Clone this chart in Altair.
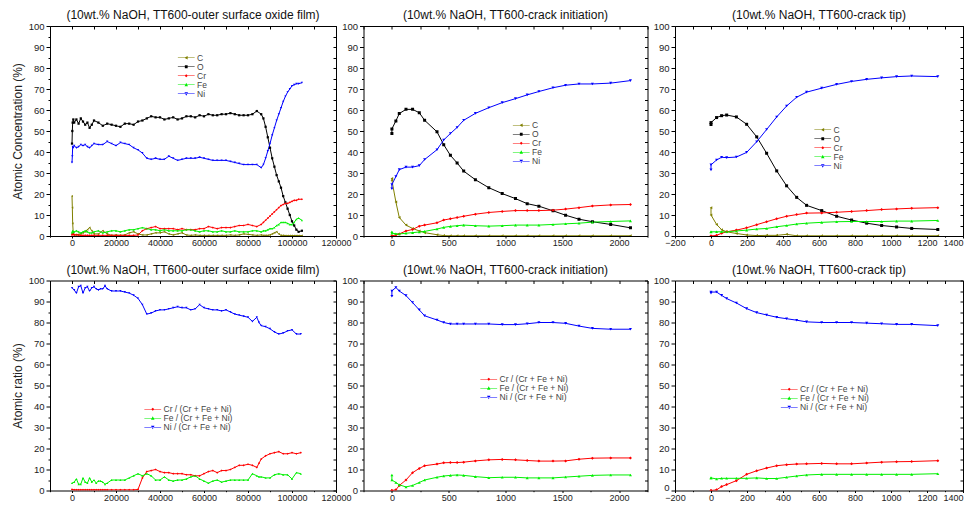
import altair as alt
import pandas as pd

FONT = "Liberation Sans"

# ---------------- top-left: outer surface oxide film (atomic concentration, %) ----------------
film_x = [0, 150, 300, 600, 1000, 2000, 3000, 4000, 5000, 6000, 7000, 8000, 9000, 10000,
          12000, 14000, 16000, 18000, 20000, 22000, 24000, 26000, 28000, 30000, 32000, 34000,
          36000, 38000, 40000, 42000, 44000, 46000, 48000, 50000, 52000, 54000, 56000, 58000,
          60000, 62000, 64000, 66000, 68000, 70000, 72000, 74000, 76000, 78000, 80000, 82000,
          84000, 86000,
          87000, 88000, 89000, 90000, 91000, 92000, 93000, 94000, 95000, 96000, 97000, 98000,
          99000, 100000, 101000, 102000, 103000, 104500]
film_C = [19, 13.5, 6, 1, 0.5, 0.5, 0.8, 1, 1.5, 2, 3, 4, 2.5, 1,
          1, 2.5, 1, 0.3, 0.5, 0.3, 0.5, 1.5, 2, 1, 0.5, 0.5, 1, 1.5, 1.5, 2, 1, 0.5, 1, 1.5,
          0.5, 0.3, 0.5, 0.3, 0.3, 0.3, 0.3, 0.3, 0.3, 0.3, 0.5, 0.3, 0.5, 1, 0.8, 0.5, 0.3, 0.5,
          0.3, 0.3, 0.3, 0.5, 1, 1.5, 2, 1, 0.3, 0.3, 0.2, 0.2, 0.2, 0.2, 0.2, 0.2, 0.2, 0.2]
film_O = [44, 50, 54, 55.5, 54, 55.5, 53.5, 56, 54.5, 53, 54, 51.5, 53, 55,
          54, 52.5, 53.5, 53, 52.5, 52, 53.5, 53.5, 53, 54.5, 55, 56, 57, 56.5, 56.5, 55.5, 56,
          56.5, 55.5, 56, 57, 57, 56.5, 57.5, 57, 58, 57.5, 57.5, 58, 58, 58.5, 58, 57.5, 57.5,
          57.5, 58, 59.5, 58,
          56, 52, 47, 42, 37, 33, 29, 26, 23, 19, 16, 13, 10, 7, 5, 3, 2, 2.5]
film_Cr = [0.5, 1, 1, 0.8, 0.5, 0.6, 0.4, 0.3, 0.3, 0.3, 0.3, 0.3, 0.3, 0.3,
           0.3, 0.3, 0.3, 0.3, 0.3, 0.3, 0.3, 0.3, 0.3, 0.5, 2.5, 3.5, 4, 4.5, 3.5, 3.5, 3.5,
           3.5, 3, 3.5, 3, 3, 3, 3.5, 3.5, 4.5, 4, 3.5, 4, 4, 4, 4.5, 5, 5, 5.5, 5, 4.5, 5.5,
           6.5, 7.5, 8.5, 9.5, 10.5, 11.5, 12.5, 13.5, 14.5, 15, 15.5, 15.5, 16, 16.5, 17, 17,
           17.5, 17.5]
film_Fe = [1.5, 2, 2.5, 2, 2, 2.5, 2, 1.5, 2, 2.5, 2, 1.5, 1.5, 2,
           2.5, 1.5, 2, 2.5, 2.5, 2, 2.5, 3, 3, 3.5, 4, 3.5, 3, 3, 2.5, 3, 2.5, 2.5, 2.5, 2.5,
           3, 3, 2.5, 2, 2.5, 2.5, 2, 2, 2.5, 2, 2, 2.5, 2, 2, 2, 2.5, 2.5, 2,
           2.5, 2.5, 3, 3.5, 3.5, 4, 5, 5.5, 6.5, 6.5, 6.5, 6, 5.5, 5.5, 6.5, 8, 8.5, 7.5]
film_Ni = [35, 38, 42.5, 42, 43, 42, 42.5, 43.5, 43, 43.5, 42.5, 42, 43, 44,
           43.5, 43.5, 45, 44, 43, 44.5, 44, 43.5, 42, 41, 39.5, 37, 36.5, 37, 36.5, 36.5, 38,
           37, 36, 36.5, 37, 37, 37, 37.5, 37, 36.5, 36, 36, 36, 36, 35.5, 35, 34.5, 34, 34,
           34, 34, 32.5,
           34, 37, 40.5, 44, 48, 51.5, 55, 58, 61, 64, 66.5, 68.5, 70, 71.5, 72, 72.5, 72.5, 73]

# ---------------- top-middle: crack initiation ----------------
init_x = [0, 0, 35, 65, 124, 182, 241, 288, 397, 456, 515, 574, 632, 735, 853, 971, 1088,
          1191, 1294, 1418, 1529, 1647, 1765, 1926, 2100]
init_C = [27.4, 26.5, 16.2, 8.8, 5.2, 3.6, 2.4, 1.6, 0.6, 0.2, 0.1, 0.1, 0.1, 0.1, 0.1, 0.1,
          0.1, 0.1, 0.1, 0.1, 0.1, 0.1, 0.1, 0.1, 0.1]
init_O = [48.8, 51.0, 54.8, 58.3, 60.3, 60.3, 58.7, 55.1, 49.6, 43.5, 38.4, 34.8, 30.9, 26.8,
          23.0, 20.2, 17.8, 15.4, 14.2, 12.0, 9.9, 8.0, 6.8, 5.5, 3.9]
init_Cr = [0, 0, 0.5, 1.0, 2.4, 3.1, 4.7, 5.2, 6.3, 7.6, 8.2, 8.8, 9.4, 10.4, 11.2, 11.7, 12.1,
           12.1, 12.1, 12.3, 12.8, 13.5, 14.3, 14.8, 15.0]
init_Fe = [2.0, 1.3, 1.1, 1.0, 1.3, 1.6, 1.9, 2.2, 3.3, 4.1, 4.6, 4.9, 5.2, 4.9, 4.7, 4.9, 5.2,
           5.2, 5.2, 5.5, 5.8, 6.1, 6.6, 6.9, 7.2]
init_Ni = [22.5, 24.5, 28.3, 31.6, 32.8, 32.8, 33.5, 36.4, 41.1, 45.7, 48.8, 51.7, 55.1, 58.4,
           61.1, 63.5, 65.4, 67.2, 68.8, 70.6, 71.8, 72.4, 72.4, 72.8, 74.0]

# ---------------- top-right: crack tip ----------------
tip_x = [0, 0, 31, 59, 87, 141, 198, 254, 309, 365, 420, 476, 531, 615, 698, 781, 865, 948,
         1031, 1115, 1260]
tip_C = [13.4, 10.0, 5.5, 3.0, 2.0, 1.2, 0.5, 0.2, 0.3, 0.3, 0.8, 0.1, 0.1, 0.1, 0.1, 0.1, 0.1,
         0.1, 0.1, 0.1, 0.1]
tip_O = [53.1, 54.0, 56.4, 57.3, 57.6, 56.7, 53.2, 47.2, 39.4, 31.0, 23.9, 18.4, 14.6, 12.1,
         9.4, 7.6, 6.1, 5.0, 4.3, 3.6, 3.1]
tip_Cr = [0, 0, 0.3, 1.3, 2.0, 2.8, 3.9, 5.4, 6.8, 8.2, 9.4, 10.2, 10.9, 11.0, 11.3, 11.7, 12.1,
          12.6, 12.9, 13.2, 13.5]
tip_Fe = [1.9, 2.0, 2.0, 2.0, 2.0, 2.4, 2.8, 3.3, 3.6, 4.4, 5.0, 5.7, 6.1, 6.5, 6.8, 6.9, 6.9,
          6.9, 7.1, 7.1, 7.4]
tip_Ni = [31.5, 33.9, 36.2, 37.5, 37.3, 37.6, 39.8, 44.9, 50.7, 56.7, 61.9, 66.1, 68.5, 70.4,
          72.2, 73.6, 74.6, 75.3, 75.9, 76.2, 75.9]

# ---------------- bottom-left: outer surface oxide film (atomic ratio, %) ----------------
rfilm_x = [0, 1000, 2000, 3000, 4000, 5000, 6000, 7000, 8000, 9000, 10000, 11000, 12000, 13000,
           14000, 15000, 16000,
           18000, 20000, 22000, 24000, 26000, 28000, 30000, 32000, 34000, 36000, 38000, 40000,
           42000, 44000, 46000, 48000, 50000, 52000, 54000, 56000, 58000, 60000, 62000, 64000,
           66000, 68000, 70000, 72000, 74000, 76000, 78000, 80000, 82000, 84000,
           85000,
           86000, 88000, 90000, 92000, 94000, 96000, 98000, 100000, 102000, 104000]
rfilm_Cr = [0.5, 0.3, 0.3, 0.3, 0.3, 0.3, 0.3, 0.3, 0.3, 0.3, 0.3, 0.3, 0.3, 0.3, 0.3, 0.3, 0.3,
            0.3, 0.3, 0.3, 0.3, 0.3, 0.3, 0.5, 6, 9, 9.5, 10, 9, 8.5, 8.5, 8, 8, 8, 7.5, 7.5, 7,
            7, 8, 9, 9.5, 8.5, 9.5, 9.5, 10, 11, 12, 12, 12.5, 12, 11,
            13,
            15, 16.5, 17.5, 18, 18.5, 17.5, 17.5, 18, 17.5, 18]
rfilm_Fe = [3.5, 4, 5.5, 3, 3, 6, 4, 3.5, 6, 4, 5, 3.5, 4.5, 4.5, 4, 3, 3.5,
            5, 5, 5, 5, 6, 7, 8, 7, 8, 7, 5, 5, 6.5, 5, 4.5, 5, 5, 5.5, 6.5, 7, 5.5, 4.5, 3.5,
            4.5, 5, 4, 4.5, 5, 5, 5, 5, 5, 8, 7,
            6.5,
            6.5, 6, 6, 7.5, 8, 7.5, 7.5, 5.5, 8.5, 8]
rfilm_Ni = [96.5, 95.5, 94, 97, 97.5, 94, 96.5, 97, 95, 96.5, 97, 96, 95.5, 96, 96, 97.5, 96,
            95, 95, 95, 94.5, 94, 93, 91.5, 88.5, 84, 84.5, 85.5, 86, 86, 86.5, 87, 87.5, 87,
            87, 86, 86.5, 88.5, 87, 86.5, 86, 86, 85.5, 86, 85, 84, 83.5, 83, 82.5, 80.5, 82.5,
            80,
            78.5, 78, 77, 75.5, 74.5, 75, 76, 76.5, 74.5, 74.5]

# ---------------- bottom-middle: crack initiation (atomic ratio, %) ----------------
rinit_Cr = [0, 0, 0.3, 2.4, 5.0, 8.5, 10.5, 11.8, 12.6, 13.2, 13.3, 13.3, 13.5, 14.1, 14.6,
            14.8, 14.6, 14.3, 14.0, 14.0, 14.1, 14.9, 15.4, 15.5, 15.5]
rinit_Fe = [7.4, 5.0, 3.8, 2.7, 1.7, 2.4, 3.8, 5.0, 6.3, 6.9, 7.2, 7.4, 7.2, 6.6, 6.1, 6.3, 6.3,
            6.0, 6.0, 6.0, 6.4, 6.8, 7.2, 7.4, 7.4]
rinit_Ni = [92.5, 95.0, 96.7, 95.0, 92.8, 89.5, 86.0, 83.2, 81.2, 80.0, 79.3, 79.3, 79.3, 79.3,
            79.3, 79.0, 79.0, 79.4, 80.0, 80.0, 79.6, 78.3, 77.2, 76.8, 76.8]

# ---------------- bottom-right: crack tip (atomic ratio, %) ----------------
rtip_Cr = [0, 0, 0.3, 1.9, 2.8, 4.7, 7.7, 9.4, 10.7, 11.8, 12.3, 12.6, 12.7, 12.9, 12.7, 12.7,
           13.1, 13.5, 13.7, 13.8, 14.2]
rtip_Fe = [6.0, 6.0, 5.5, 5.8, 5.8, 5.8, 5.8, 6.0, 5.7, 5.7, 6.3, 6.9, 7.4, 7.7, 7.7, 7.7, 7.7,
           7.7, 7.7, 7.7, 8.0]
rtip_Ni = [94.0, 94.5, 94.5, 92.9, 91.4, 89.3, 86.6, 84.7, 83.6, 82.5, 81.8, 81.1, 80.3, 80.0,
           80.0, 80.0, 79.7, 79.4, 79.1, 79.1, 78.5]

conc_names = ["C", "O", "Cr", "Fe", "Ni"]
ratio_names = ["Cr / (Cr + Fe + Ni)", "Fe / (Cr + Fe + Ni)", "Ni / (Cr + Fe + Ni)"]
ratio_elems = ["Cr", "Fe", "Ni"]
title_film = "(10wt.% NaOH, TT600-outer surface oxide film)"
title_init = "(10wt.% NaOH, TT600-crack initiation)"
title_tip = "(10wt.% NaOH, TT600-crack tip)"

# ---------------- styling ----------------
ELEMENT_COLOR = {"C": "#808000", "O": "#000000", "Cr": "#ff0000", "Fe": "#00f000", "Ni": "#0000ff"}
ELEMENT_MARK = {"C": "triangle-left", "O": "square", "Cr": "diamond",
                "Fe": "triangle-up", "Ni": "triangle-down"}
LINE_PATH = "M-2.4,-0.1H2.4V0.1H-2.4Z"
LEGEND_MARK = {
    "C": "M-0.55,0L0.4,-0.5L0.4,0.5Z",
    "O": "M-0.4,-0.4H0.4V0.4H-0.4Z",
    "Cr": "M0,-0.45L0.45,0L0,0.45L-0.45,0Z",
    "Fe": "M0,-0.55L0.5,0.4H-0.5Z",
    "Ni": "M0,0.55L0.5,-0.4H-0.5Z",
}


def panel(x, names, elems, values, title, xdom, xstep, lab_step, lab_min, lab_max,
          width, height, ytitle, leg_x, leg_y, msize):
    rows = []
    for name, vals in zip(names, values):
        for i, (xv, yv) in enumerate(zip(x, vals)):
            rows.append({"series": name, "x": xv, "y": yv, "idx": i})
    df = pd.DataFrame(rows)

    xscale = alt.Scale(domain=xdom, nice=False, zero=False)
    yscale = alt.Scale(domain=[0, 100], nice=False, zero=False)
    cscale = alt.Scale(domain=names, range=[ELEMENT_COLOR[e] for e in elems])
    sscale = alt.Scale(domain=names, range=[LINE_PATH + " " + LEGEND_MARK[e] for e in elems])
    xticks = list(range(xdom[0], xdom[1] + 1, xstep))
    yticks = list(range(0, 101, 5))

    # right-most panels: keep the last label inside the page
    if lab_min < 0:
        xalign = {"condition": {"test": f"datum.value === {lab_max}", "value": "right"},
                  "value": "center"}
        ybase = {"condition": {"test": "datum.value === 0", "value": "alphabetic"}, "value": "middle"}
    else:
        xalign = "center"
        ybase = "middle"
    x_axis = alt.Axis(
        values=xticks, format="d", title=None, grid=False, domain=False,
        labelExpr=(f"(datum.value >= {lab_min} && datum.value <= {lab_max} && "
                   f"datum.value % {lab_step} === 0) ? datum.label : ''"),
        tickSize={"condition": {"test": f"datum.value % {lab_step} === 0", "value": 2}, "value": 1.2},
        tickColor="black", labelColor="#222", labelFont=FONT, labelFontSize=9,
        labelPadding=0.5, labelFlush=False, labelOverlap=False, minExtent=0, labelAlign=xalign,
    )
    y_kwargs = dict(
        values=yticks, grid=False, domain=False,
        labelExpr="datum.value % 10 === 0 ? datum.label : ''",
        tickSize={"condition": {"test": "datum.value % 10 === 0", "value": 4}, "value": 2},
        tickColor="black", labelColor="#222", labelFont=FONT, labelFontSize=9.5,
        labelPadding=2, labelOverlap=False, minExtent=0, labelBaseline=ybase,
    )
    if ytitle:
        y_axis = alt.Axis(title=ytitle, titleFont=FONT, titleFontSize=12,
                          titleFontWeight="normal", titleColor="#222", titlePadding=4, **y_kwargs)
    else:
        y_axis = alt.Axis(title=None, **y_kwargs)
    top_axis = alt.Axis(orient="top", values=xticks, labels=False, domain=False, grid=False,
                        title=None, tickSize=3, offset=-3, tickColor="black",
                        minExtent=0, maxExtent=0)
    right_axis = alt.Axis(orient="right", values=yticks, labels=False, domain=False, grid=False,
                          title=None, tickSize=3, offset=-3, tickColor="black",
                          minExtent=0, maxExtent=0)

    layers = []
    for k, (name, e) in enumerate(zip(names, elems)):
        sub = df[df["series"] == name]
        xa = x_axis if k == 0 else None
        ya = y_axis if k == 0 else None
        layers.append(
            alt.Chart(sub).mark_line(strokeWidth=1, clip=True, color=ELEMENT_COLOR[e]).encode(
                x=alt.X("x:Q", scale=xscale, axis=xa),
                y=alt.Y("y:Q", scale=yscale, axis=ya),
                order=alt.Order("idx:Q"),
            )
        )
    for name, e in zip(names, elems):
        sub = df[df["series"] == name]
        layers.append(
            alt.Chart(sub).mark_point(shape=ELEMENT_MARK[e], filled=True, size=msize, opacity=1,
                                      strokeWidth=0, color=ELEMENT_COLOR[e], clip=True).encode(
                x=alt.X("x:Q", scale=xscale, axis=None),
                y=alt.Y("y:Q", scale=yscale, axis=None),
            )
        )
    legend = alt.Legend(
        orient="none", legendX=leg_x, legendY=leg_y, title=None, symbolSize=49,
        labelFont=FONT, labelFontSize=8.5, labelColor="#444", labelOffset=6.5, rowPadding=0,
        padding=0, symbolStrokeWidth=0, symbolOpacity=1, labelLimit=300,
    )
    key_df = pd.DataFrame({"series": names, "x": [float("nan")] * len(names),
                           "y": [float("nan")] * len(names)})
    key = alt.Chart(key_df).mark_point(filled=True, opacity=1).encode(
        x=alt.X("x:Q", scale=xscale, axis=top_axis),
        y=alt.Y("y:Q", scale=yscale, axis=right_axis),
        color=alt.Color("series:N", scale=cscale, legend=legend),
        shape=alt.Shape("series:N", scale=sscale, legend=legend),
    )
    layers.append(key)
    return alt.layer(*layers).resolve_axis(x="independent", y="independent").properties(
        width=width, height=height,
        title=alt.TitleParams(title, font=FONT, fontSize=12, fontWeight="normal", color="#111",
                              offset=-1, anchor="middle"),
    )


H = 210
p1 = panel(film_x, conc_names, conc_names, [film_C, film_O, film_Cr, film_Fe, film_Ni],
           title_film, [-10000, 120000], 10000, 20000, 0, 120000, 286, H,
           "Atomic Concentration (%)", 132, 27.5, 5)
p2 = panel(init_x, conc_names, conc_names, [init_C, init_O, init_Cr, init_Fe, init_Ni],
           title_init, [-250, 2250], 250, 500, 0, 2000, 284, H, None, 153.5, 95, 9)
p3 = panel(tip_x, conc_names, conc_names, [tip_C, tip_O, tip_Cr, tip_Fe, tip_Ni],
           title_tip, [-200, 1400], 100, 200, -200, 1400, 288, H, None, 143.5, 99.5, 9)
p4 = panel(rfilm_x, ratio_names, ratio_elems, [rfilm_Cr, rfilm_Fe, rfilm_Ni],
           title_film, [-10000, 120000], 10000, 20000, 0, 120000, 286, H,
           "Atomic ratio (%)", 98.5, 124.5, 5)
p5 = panel(init_x, ratio_names, ratio_elems, [rinit_Cr, rinit_Fe, rinit_Ni],
           title_init, [-250, 2250], 250, 500, 0, 2000, 284, H, None, 121, 94.5, 9)
p6 = panel(tip_x, ratio_names, ratio_elems, [rtip_Cr, rtip_Fe, rtip_Ni],
           title_tip, [-200, 1400], 100, 200, -200, 1400, 288, H, None, 110, 104.5, 9)

chart = alt.concat(
    p1, p2, p3, p4, p5, p6, columns=3, align="each",
    spacing={"row": 44.5, "column": 27.5}, bounds="flush",
).resolve_scale(
    color="independent", shape="independent"
).resolve_legend(
    color="independent", shape="independent"
).configure(
    padding={"left": 2, "top": 0, "right": 0, "bottom": 0}, font=FONT,
).configure_view(stroke="black", strokeWidth=1)

chart.save("out.html", embed_options={"renderer": "svg", "actions": False})
